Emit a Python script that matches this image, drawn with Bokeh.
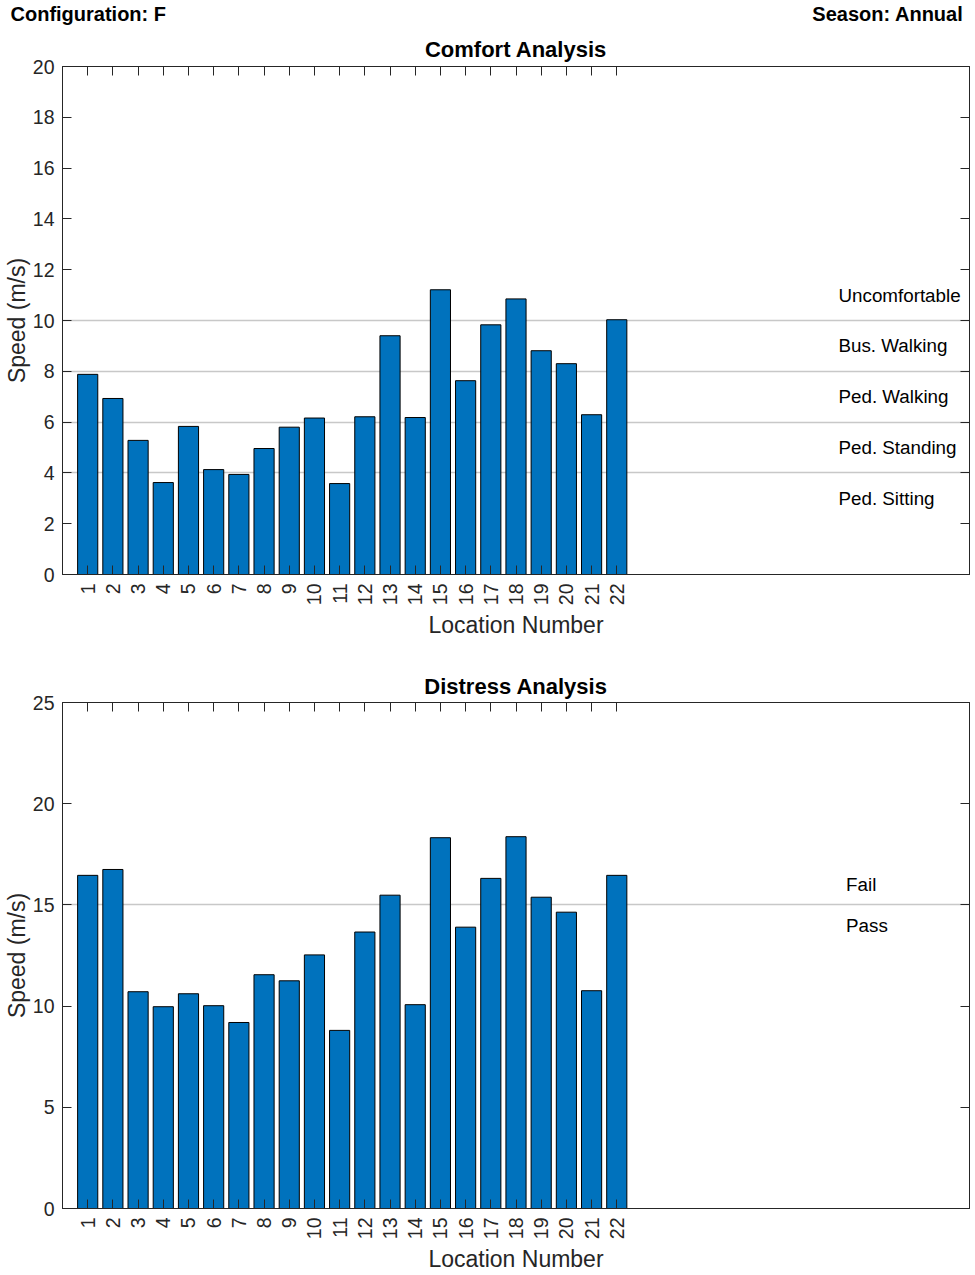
import math
from bokeh.plotting import figure
from bokeh.layouts import column, row
from bokeh.models import Range1d, LinearAxis, FixedTicker
from bokeh.core.properties import value
from bokeh.embed import file_html
from bokeh.resources import INLINE

# ---------------- data ----------------
locations = list(range(1, 23))
comfort_speed = [7.88, 6.93, 5.28, 3.62, 5.83, 4.13, 3.94, 4.96, 5.80, 6.16, 3.58,
                 6.21, 9.40, 6.18, 11.21, 7.63, 9.83, 10.85, 8.81, 8.30, 6.29, 10.03]
distress_speed = [16.46, 16.75, 10.71, 9.97, 10.61, 10.02, 9.19, 11.55, 11.25, 12.53, 8.80,
                  13.66, 15.48, 10.07, 18.32, 13.90, 16.31, 18.37, 15.38, 14.64, 10.76, 16.46]
comfort_thresholds = [4, 6, 8, 10]
comfort_labels = ["Uncomfortable", "Bus. Walking", "Ped. Walking", "Ped. Standing", "Ped. Sitting"]
comfort_label_y = [11, 9, 7, 5, 3]
distress_thresholds = [15]
distress_labels = ["Fail", "Pass"]
distress_label_y = [16, 14]
comfort_yticks = list(range(0, 21, 2))
distress_yticks = list(range(0, 26, 5))

# ---------------- style ----------------
FONT = "Liberation Sans"
TXT = "#262626"
AX = "#262626"
BAR = "#0072BD"
GRID = "#c8c8c8"
W = 971
X_MAX = 36
FRAME_L = 62
FRAME_R = 969


def style_axis(ax, show_labels=True):
    ax.axis_line_color = AX
    ax.axis_line_width = 1
    ax.major_tick_line_color = AX
    ax.major_tick_in = 9
    ax.major_tick_out = 0
    ax.minor_tick_line_color = None
    ax.major_label_text_font = FONT
    ax.major_label_text_font_size = "19.5px"
    ax.major_label_text_color = TXT
    ax.axis_label_text_font = FONT
    ax.axis_label_text_font_size = "23px"
    ax.axis_label_text_font_style = "normal"
    ax.axis_label_text_color = TXT
    if not show_labels:
        ax.major_label_text_font_size = "0px"
        ax.major_label_standoff = 0


def text_strip(height, texts):
    """A strip of plain text above the panels, in pixel-like units."""
    s = figure(width=W, height=height, x_range=Range1d(0, W), y_range=Range1d(0, height),
               x_axis_type=None, y_axis_type=None, output_backend="svg",
               toolbar_location=None, title=None, min_border=0,
               min_border_left=0, min_border_right=0, min_border_top=0, min_border_bottom=0)
    s.xgrid.visible = False
    s.ygrid.visible = False
    s.outline_line_color = None
    s.background_fill_color = "white"
    s.border_fill_color = "white"
    for (txt, x, y, size, align) in texts:
        s.text(x=[x], y=[y], text=[txt], text_font=value(FONT), text_font_size=size,
               text_font_style="bold", text_color="black", text_align=align,
               text_baseline="middle")
    return s


def make_panel(values, y_max, yticks, thresholds, labels, label_y, label_x,
               title, height, top, bottom, title_standoff):
    p = figure(width=W, height=height, x_range=Range1d(0, X_MAX), y_range=Range1d(0, y_max),
               output_backend="svg", toolbar_location=None, title=title,
               min_border_left=FRAME_L, min_border_right=W - FRAME_R,
               min_border_top=top, min_border_bottom=bottom)
    p.title.align = "center"
    p.title.text_font = FONT
    p.title.text_font_size = "22px"
    p.title.text_font_style = "bold"
    p.title.text_color = "black"
    p.title.standoff = title_standoff
    p.background_fill_color = "white"
    p.border_fill_color = "white"
    p.outline_line_color = AX
    p.xgrid.visible = False
    p.ygrid.visible = False

    p.xaxis.ticker = FixedTicker(ticks=locations)
    p.xaxis.major_label_orientation = math.pi / 2
    p.xaxis.axis_label = "Location Number"
    p.yaxis.ticker = FixedTicker(ticks=yticks)
    p.yaxis.axis_label = "Speed (m/s)"
    style_axis(p.xaxis[0])
    style_axis(p.yaxis[0])
    p.xaxis.major_label_standoff = 9
    p.xaxis.axis_label_standoff = 4
    p.yaxis.major_label_standoff = 8
    p.yaxis.axis_label_standoff = 0

    top_ax = LinearAxis(ticker=FixedTicker(ticks=locations),
                        major_label_overrides={t: "" for t in locations})
    style_axis(top_ax, show_labels=False)
    p.add_layout(top_ax, "above")
    right_ax = LinearAxis(ticker=FixedTicker(ticks=yticks),
                          major_label_overrides={t: "" for t in yticks})
    style_axis(right_ax, show_labels=False)
    p.add_layout(right_ax, "right")

    p.hspan(y=thresholds, line_color=GRID, line_width=1.6)
    p.vbar(x=locations, top=values, width=0.8, fill_color=BAR,
           line_color="black", line_width=1)
    p.text(x=[label_x] * len(labels), y=label_y, text=labels,
           text_font=value(FONT), text_font_size="18.8px", text_color="black",
           text_align="left", text_baseline="middle")
    return p


hdr = text_strip(30, [("Configuration: F", 10, 17, "20px", "left"),
                      ("Season: Annual", 963, 17, "20px", "right")])
p1 = make_panel(comfort_speed, 20, comfort_yticks, comfort_thresholds, comfort_labels,
                comfort_label_y, 30.8, "Comfort Analysis", height=614, top=35, bottom=70,
                title_standoff=9)
p2 = make_panel(distress_speed, 25, distress_yticks, distress_thresholds, distress_labels,
                distress_label_y, 31.1, "Distress Analysis", height=631, top=58, bottom=64,
                title_standoff=8)

layout = column(row(hdr), p1, p2, spacing=0)
open("out.html", "w").write(file_html(layout, INLINE))
